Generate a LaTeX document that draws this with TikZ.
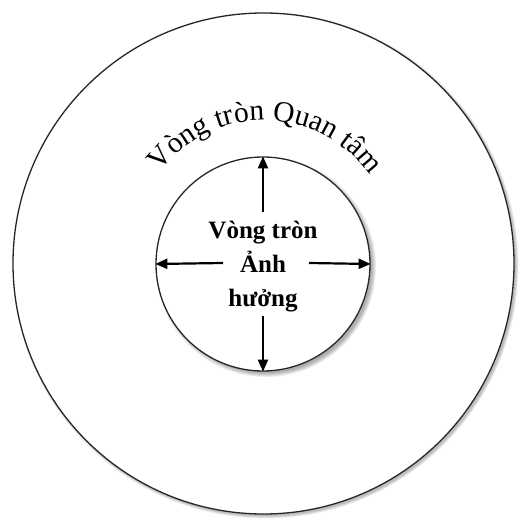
\documentclass[tikz,border=0pt]{standalone}
\usepackage{fontspec}
\setmainfont{Liberation Serif}
\usetikzlibrary{decorations.text,arrows.meta,calc}
\tikzset{
  ring/.style={draw=black!85, line width=1.3pt, fill=white, circle, inner sep=0pt},
  spoke/.style={line width=2.2pt, -{Triangle[length=12pt,width=10pt]}},
  shade/.style={fill=black, opacity=0.07, draw=none}
}
\begin{document}
\begin{tikzpicture}[x=1pt,y=1pt]
\useasboundingbox (0,0) rectangle (519,520);
\fill[white] (0,0) rectangle (519,520);
% outer circle shadow
\foreach \k in {0,1,2,3}{\fill[shade] (265.5,254.5) circle ({250.5+\k*0.8});}
\node[ring, minimum size=501pt] (outer) at (263.5,256.5) {};
% curved label
\path[postaction={decorate}, decoration={text along path, text align=center,
  text={|\fontsize{29.5}{30}\selectfont|Vòng tròn Quan tâm}}]
  ($(263.5,269)+(155:130.5)$) arc[start angle=155, end angle=23, radius=130.5];
% inner circle shadow
\foreach \k in {0,1,2,3,4}{\fill[shade] (266,253) circle ({106+\k*1.0});}
\node[ring, minimum size=214pt] (inner) at (263,256) {};
\node[font=\bfseries\fontsize{25}{34}\selectfont, align=center, inner sep=0pt] (lbl) at (263,253) {Vòng tròn\\Ảnh\\hưởng};
\coordinate (up0) at (263,308);
\coordinate (dn0) at (263,204);
\coordinate (lf0) at (223,257);
\coordinate (rt0) at (309,257);
\draw[spoke] (up0) -- (inner.north);
\draw[spoke] (dn0) -- (inner.south);
\draw[spoke] (lf0) -- (inner.west);
\draw[spoke] (rt0) -- (inner.east);
\end{tikzpicture}
\end{document}
